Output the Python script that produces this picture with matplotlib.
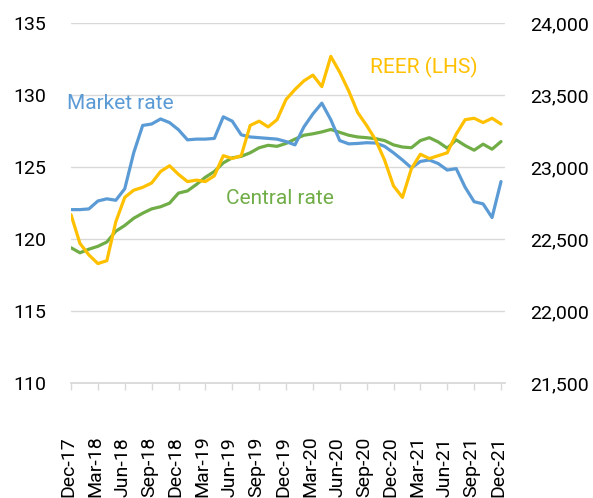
import matplotlib
matplotlib.use("Agg")
import matplotlib.pyplot as plt
import matplotlib.transforms as mtransforms
import pandas as pd

plt.rcParams["font.family"] = ["Roboto", "DejaVu Sans"]

# ── data (monthly, Dec-17 .. Dec-21) ──
months = pd.date_range("2017-12-01", "2021-12-01", freq="MS")

reer = [121.7, 119.7, 118.9, 118.3, 118.5, 121.2, 122.9, 123.4, 123.6, 123.9,
        124.7, 125.1, 124.5, 124.0, 124.1, 124.0, 124.4, 125.8, 125.6, 125.8,
        127.9, 128.2, 127.8, 128.3, 129.7, 130.4, 131.0, 131.4, 130.6, 132.7,
        131.6, 130.3, 128.8, 127.9, 126.9, 125.5, 123.7, 122.9, 124.9, 125.9,
        125.6, 125.8, 126.0, 127.3, 128.3, 128.4, 128.1, 128.4, 128.0]

market = [22705, 22705, 22710, 22765, 22780, 22770, 22850, 23100, 23290, 23300,
          23335, 23310, 23260, 23190, 23195, 23195, 23200, 23350, 23320, 23225,
          23210, 23205, 23200, 23195, 23178, 23155, 23280, 23370, 23445, 23330,
          23185, 23162, 23165, 23170, 23168, 23145, 23100, 23050, 22995, 23040,
          23050, 23025, 22980, 22990, 22860, 22760, 22745, 22650, 22900]

central = [22440, 22405, 22430, 22450, 22480, 22555, 22595, 22645, 22680, 22710,
           22725, 22750, 22820, 22835, 22880, 22930, 22970, 23030, 23065, 23075,
           23100, 23135, 23152, 23145, 23165, 23195, 23222, 23232, 23245, 23262,
           23242, 23222, 23210, 23205, 23198, 23185, 23155, 23140, 23135, 23185,
           23205, 23175, 23132, 23190, 23150, 23118, 23160, 23125, 23178]

left_ticks = [110, 115, 120, 125, 130, 135]
right_ticks = [21500, 22000, 22500, 23000, 23500, 24000]

C_REER, C_MKT, C_CEN = "#FFC000", "#5B9BD5", "#70AD47"
GRID = "#D9D9D9"

fig = plt.figure(figsize=(5.93, 4.98), dpi=100)
ax = fig.add_axes([71/593, 1 - 383/498, (505 - 71)/593, (383 - 23.3)/498])
ax2 = ax.twinx()

x = list(range(len(months)))
ax2.plot(x, central, color=C_CEN, lw=2.3, solid_joinstyle="round", solid_capstyle="round")
ax2.plot(x, market, color=C_MKT, lw=2.3, solid_joinstyle="round", solid_capstyle="round")
ax.plot(x, reer, color=C_REER, lw=2.3, solid_joinstyle="round", solid_capstyle="round", zorder=5)
ax.set_zorder(ax2.get_zorder() + 1)
ax.patch.set_visible(False)

ax.set_xlim(0, (len(x) - 1) * 434 / 430)
ax.set_ylim(110, 135)
ax2.set_ylim(21500, 24000)
ax.set_yticks(left_ticks)
ax2.set_yticks(right_ticks)
ax.set_yticklabels([str(v) for v in left_ticks])
ax2.set_yticklabels([f"{v:,}" for v in right_ticks])
for a in (ax, ax2):
    for s in a.spines.values():
        s.set_visible(False)
    a.tick_params(axis="y", length=0, labelsize=14, colors="black", pad=18)
for v in left_ticks[1:]:
    ax2.axhline(21500 + (v - 110) * 100, color=GRID, lw=1, zorder=0)
ax.spines["bottom"].set_visible(True)
ax.spines["bottom"].set_color(GRID)
ax.spines["bottom"].set_linewidth(1.3)

tick_pos = x[::3]
ax.set_xticks(tick_pos)
ax.set_xticklabels([])
ax.tick_params(axis="x", length=5, color=GRID, width=1)

trans = mtransforms.blended_transform_factory(ax.transData, fig.transFigure)
for i in tick_pos:
    ax.text(i - 0.3, 1/498, months[i].strftime("%b-%y"), rotation=90, ha="center",
            va="bottom", fontsize=14, transform=trans, color="black")

ax.text(-0.5, 129.45, "Market rate", color=C_MKT, fontsize=15, ha="left", va="center")
ax.text(17.3, 122.8, "Central rate", color=C_CEN, fontsize=15, ha="left", va="center")
ax.text(33.4, 131.95, "REER (LHS)", color=C_REER, fontsize=15, ha="left", va="center")

fig.savefig("out.png", dpi=100)
